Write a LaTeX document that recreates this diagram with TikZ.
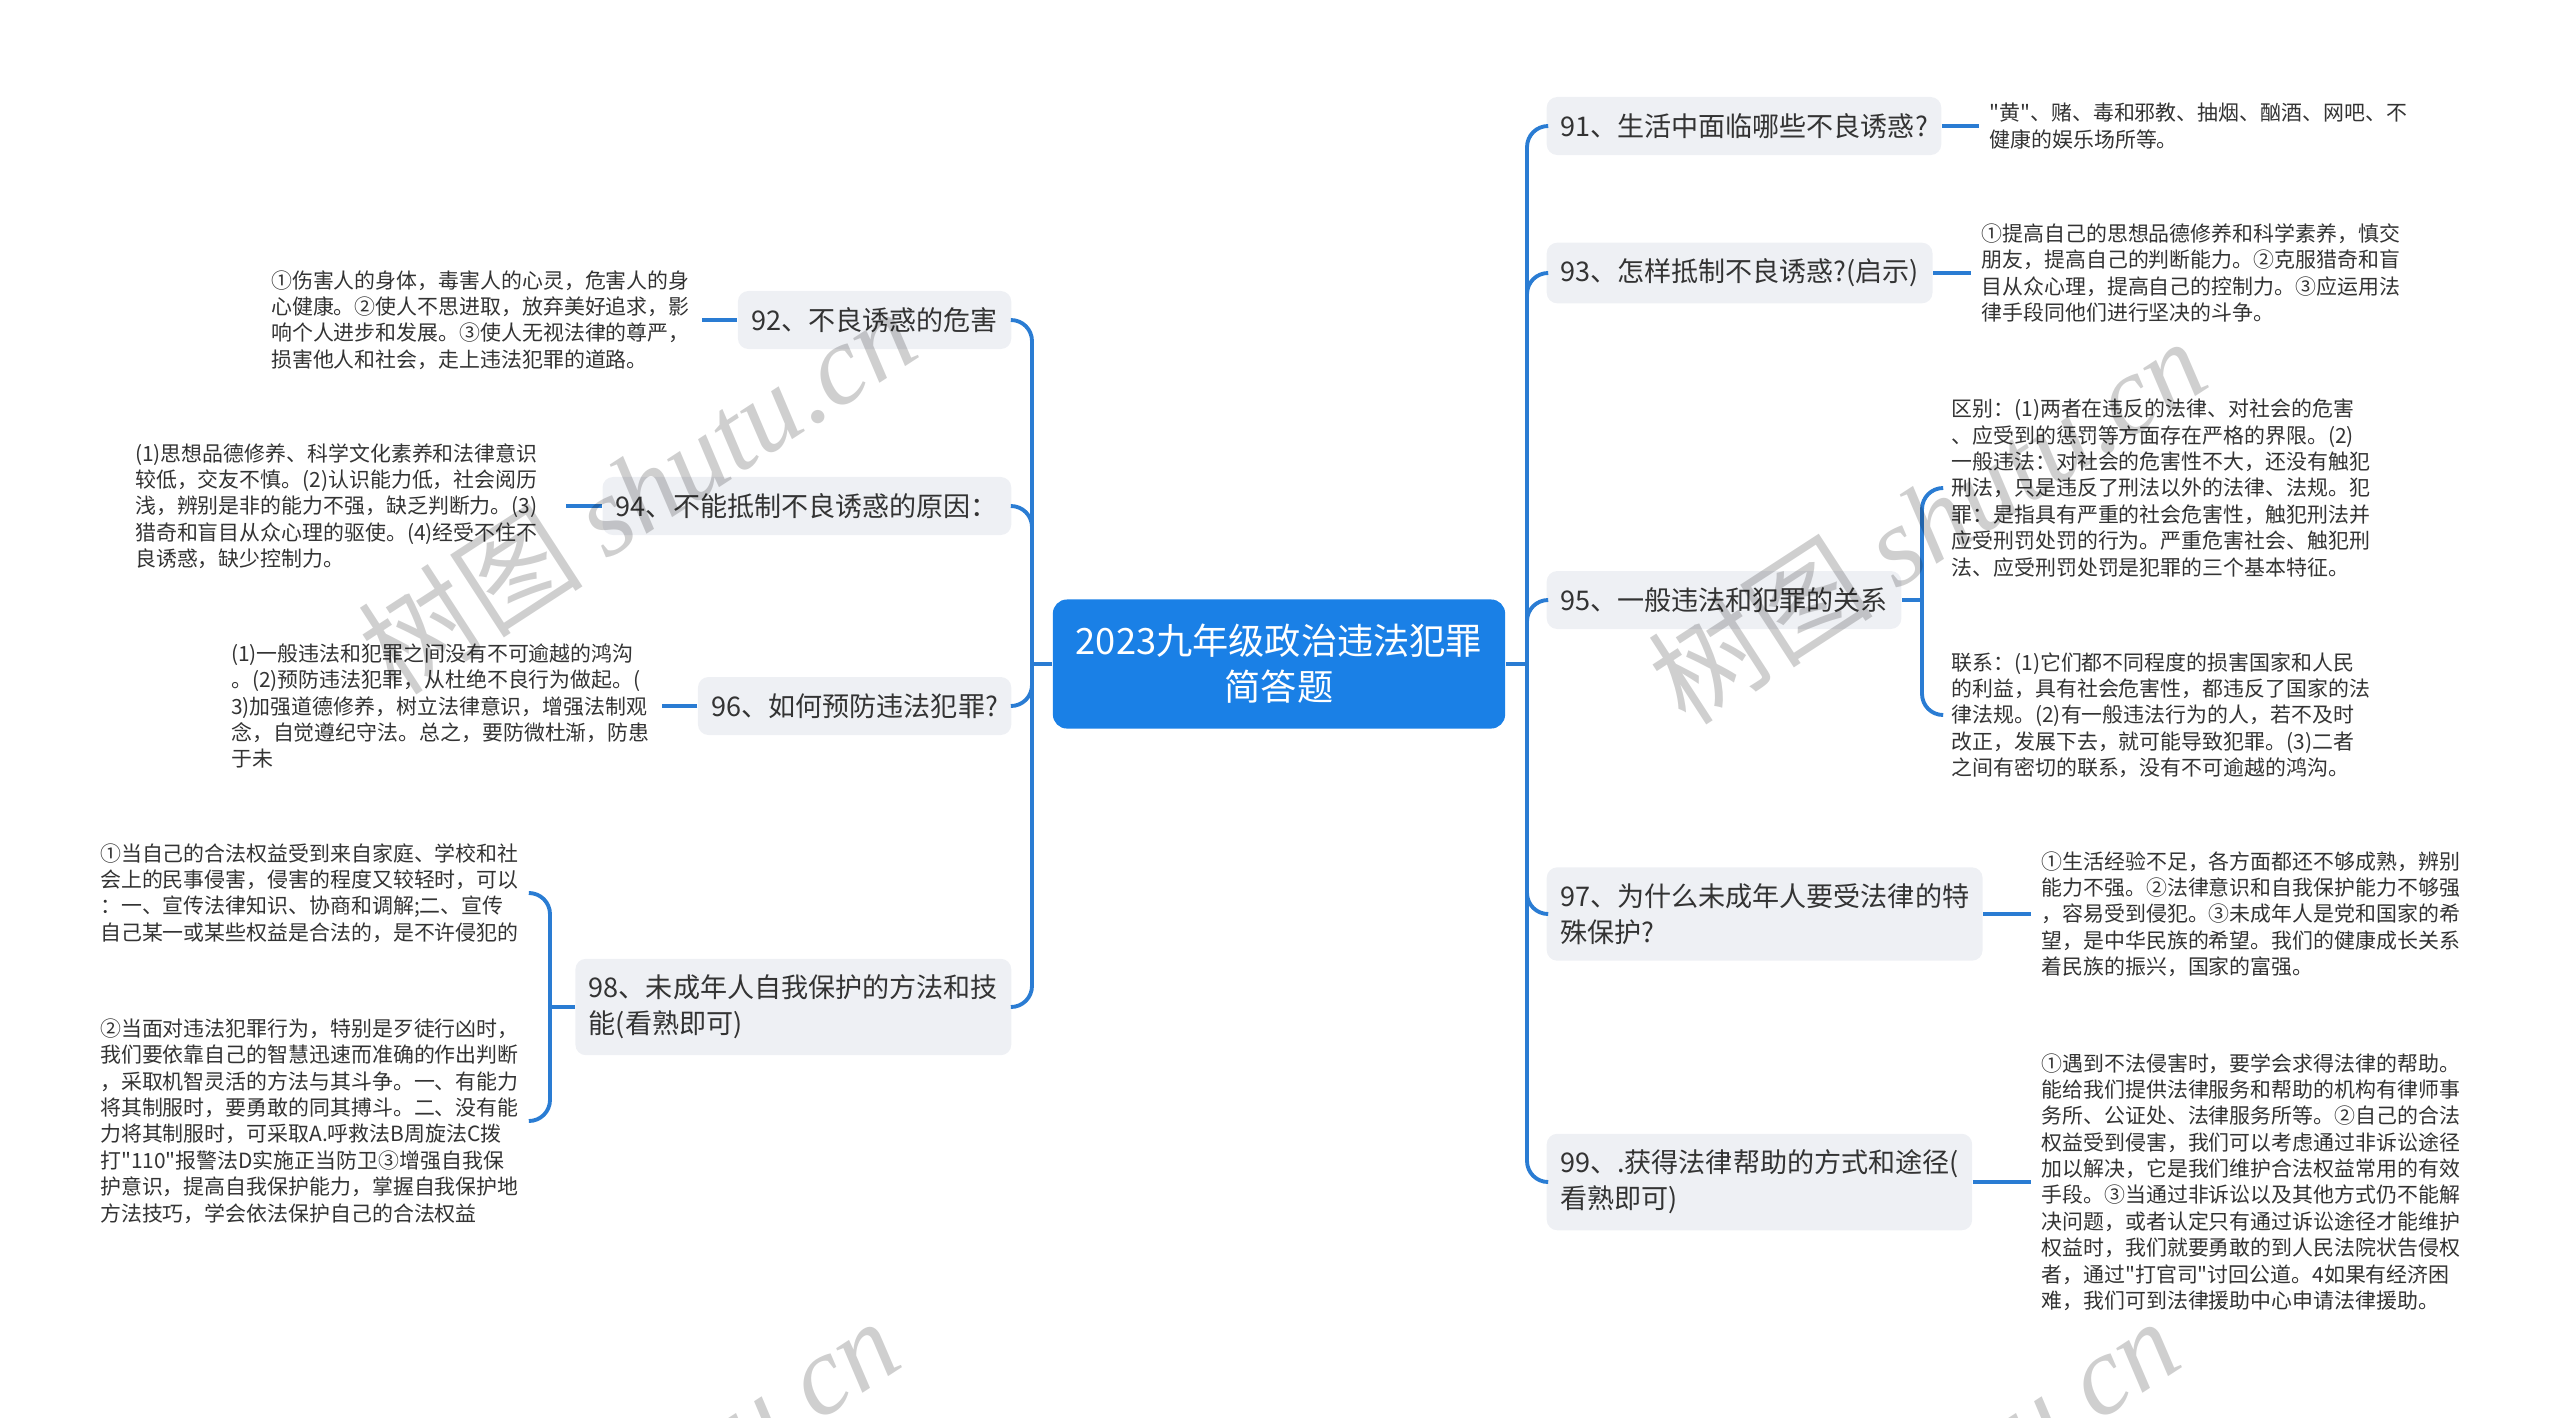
\documentclass[tikz,border=0pt]{standalone}
\usepackage{fontspec}
\setmainfont{Noto Sans CJK SC}
\newfontfamily\cjk{Noto Sans CJK SC}
\newfontfamily\wmfont{Liberation Serif}
\usepackage{xcolor}
\usetikzlibrary{calc, positioning}

\definecolor{rootblue}{HTML}{1A80E6}
\definecolor{linkblue}{HTML}{2A7CD3}
\definecolor{branchgray}{HTML}{EEF0F4}
\definecolor{textdark}{HTML}{333333}

\tikzset{
  root/.style={fill=rootblue, rounded corners=4pt, text=white, align=center,
    minimum width=4.52cm, minimum height=1.29cm, inner sep=0pt,
    font=\cjk\fontsize{10.3}{13}\selectfont},
  branch/.style={fill=branchgray, rounded corners=3pt, text=textdark, align=left,
    inner xsep=3.8pt, inner ysep=4.6pt, minimum height=0.58cm,
    font=\cjk\fontsize{7.7}{10.2}\selectfont},
  leaf/.style={text=textdark, align=left, text width=4.2cm,
    inner xsep=2.8pt, inner ysep=1pt, font=\cjk\fontsize{5.95}{7.5}\selectfont},
  link/.style={draw=linkblue, line width=1.1pt, rounded corners=6pt},
  wmark/.style={text=black, opacity=0.19, font=\cjk\fontsize{32}{32}\selectfont}
}

\begin{document}
\begin{tikzpicture}[x=0.01cm, y=-0.01cm]

    \useasboundingbox (0,0) rectangle (2560,1417);

    % =================================================================
    % 1. CHỦ ĐỀ TRUNG TÂM VÀ CÁC ĐIỂM RẼ NHÁNH
    % =================================================================
    \node[root] (root) at (1279,664) {2023九年级政治违法犯罪\\简答题};

    \coordinate (trunkL) at (1032,664);
    \coordinate (trunkR) at (1527,664);
    \coordinate (j98) at (550,1007);
    \coordinate (j95) at (1922,600);

    % =================================================================
    % 2. CÁC NHÁNH BÊN TRÁI
    % =================================================================
    \node[branch, anchor=east] (b92) at (1012,320) {92、不良诱惑的危害};
    \node[branch, anchor=east] (b94) at (1012,506) {94、不能抵制不良诱惑的原因：};
    \node[branch, anchor=east] (b96) at (1012,706) {96、如何预防违法犯罪?};
    \node[branch, anchor=east] (b98) at (1012,1007) {98、未成年人自我保护的方法和技\\能(看熟即可)};

    % =================================================================
    % 3. CÁC NHÁNH BÊN PHẢI
    % =================================================================
    \node[branch, anchor=west] (b91) at (1546,126) {91、生活中面临哪些不良诱惑?};
    \node[branch, anchor=west] (b93) at (1546,273) {93、怎样抵制不良诱惑?(启示)};
    \node[branch, anchor=west] (b95) at (1546,600) {95、一般违法和犯罪的关系};
    \node[branch, anchor=west] (b97) at (1546,914) {97、为什么未成年人要受法律的特\\殊保护?};
    \node[branch, anchor=west] (b99) at (1546,1182) {99、.获得法律帮助的方式和途径(\\看熟即可)};

    % =================================================================
    % 4. NỘI DUNG CHI TIẾT (LÁ)
    % =================================================================
    \node[leaf, anchor=east] (l92) at (702,320) {①伤害人的身体，毒害人的心灵，危害人的身\\心健康。②使人不思进取，放弃美好追求，影\\响个人进步和发展。③使人无视法律的尊严，\\损害他人和社会，走上违法犯罪的道路。};
    \node[leaf, anchor=east] (l94) at (566,506) {(1)思想品德修养、科学文化素养和法律意识\\较低，交友不慎。(2)认识能力低，社会阅历\\浅，辨别是非的能力不强，缺乏判断力。(3)\\猎奇和盲目从众心理的驱使。(4)经受不住不\\良诱惑，缺少控制力。};
    \node[leaf, anchor=east] (l96) at (662,706) {(1)一般违法和犯罪之间没有不可逾越的鸿沟\\。(2)预防违法犯罪，从杜绝不良行为做起。(\\3)加强道德修养，树立法律意识，增强法制观\\念，自觉遵纪守法。总之，要防微杜渐，防患\\于未};
    \node[leaf, anchor=east] (l98a) at (531,893) {①当自己的合法权益受到来自家庭、学校和社\\会上的民事侵害，侵害的程度又较轻时，可以\\：一、宣传法律知识、协商和调解;二、宣传\\自己某一或某些权益是合法的，是不许侵犯的};
    \node[leaf, anchor=east] (l98b) at (531,1121) {②当面对违法犯罪行为，特别是歹徒行凶时，\\我们要依靠自己的智慧迅速而准确的作出判断\\，采取机智灵活的方法与其斗争。一、有能力\\将其制服时，要勇敢的同其搏斗。二、没有能\\力将其制服时，可采取A.呼救法B周旋法C拨\\打"110"报警法D实施正当防卫③增强自我保\\护意识，提高自我保护能力，掌握自我保护地\\方法技巧，学会依法保护自己的合法权益};

    \node[leaf, anchor=west] (l91) at (1979,126) {"黄"、赌、毒和邪教、抽烟、酗酒、网吧、不\\健康的娱乐场所等。};
    \node[leaf, anchor=west] (l93) at (1971,273) {①提高自己的思想品德修养和科学素养，慎交\\朋友，提高自己的判断能力。②克服猎奇和盲\\目从众心理，提高自己的控制力。③应运用法\\律手段同他们进行坚决的斗争。};
    \node[leaf, anchor=west] (l95a) at (1941,488) {区别：(1)两者在违反的法律、对社会的危害\\、应受到的惩罚等方面存在严格的界限。(2)\\一般违法：对社会的危害性不大，还没有触犯\\刑法，只是违反了刑法以外的法律、法规。犯\\罪：是指具有严重的社会危害性，触犯刑法并\\应受刑罚处罚的行为。严重危害社会、触犯刑\\法、应受刑罚处罚是犯罪的三个基本特征。};
    \node[leaf, anchor=west] (l95b) at (1941,715) {联系：(1)它们都不同程度的损害国家和人民\\的利益，具有社会危害性，都违反了国家的法\\律法规。(2)有一般违法行为的人，若不及时\\改正，发展下去，就可能导致犯罪。(3)二者\\之间有密切的联系，没有不可逾越的鸿沟。};
    \node[leaf, anchor=west] (l97) at (2031,914) {①生活经验不足，各方面都还不够成熟，辨别\\能力不强。②法律意识和自我保护能力不够强\\，容易受到侵犯。③未成年人是党和国家的希\\望，是中华民族的希望。我们的健康成长关系\\着民族的振兴，国家的富强。};
    \node[leaf, anchor=west] (l99) at (2031,1182) {①遇到不法侵害时，要学会求得法律的帮助。\\能给我们提供法律服务和帮助的机构有律师事\\务所、公证处、法律服务所等。②自己的合法\\权益受到侵害，我们可以考虑通过非诉讼途径\\加以解决，它是我们维护合法权益常用的有效\\手段。③当通过非诉讼以及其他方式仍不能解\\决问题，或者认定只有通过诉讼途径才能维护\\权益时，我们就要勇敢的到人民法院状告侵权\\者，通过"打官司"讨回公道。4如果有经济困\\难，我们可到法律援助中心申请法律援助。};

    % =================================================================
    % 5. CÁC ĐƯỜNG NỐI
    % =================================================================
    \draw[link] (root.west) -- (trunkL);
    \draw[link] (root.east) -- (trunkR);
    \foreach \b in {b92,b94,b96,b98}
        \draw[link] (trunkL) |- (\b.east);
    \foreach \b in {b91,b93,b95,b97,b99}
        \draw[link] (trunkR) |- (\b.west);

    \draw[link] (b92.west) -- (l92.east);
    \draw[link] (b94.west) -- (l94.east);
    \draw[link] (b96.west) -- (l96.east);
    \draw[link] (b98.west) -- (j98);
    \draw[link] (j98) |- (l98a.east);
    \draw[link] (j98) |- (l98b.east);

    \draw[link] (b91.east) -- (l91.west);
    \draw[link] (b93.east) -- (l93.west);
    \draw[link] (b95.east) -- (j95);
    \draw[link] (j95) |- (l95a.west);
    \draw[link] (j95) |- (l95b.west);
    \draw[link] (b97.east) -- (l97.west);
    \draw[link] (b99.east) -- (l99.west);

    % =================================================================
    % 6. DẤU NƯỚC (WATERMARK)
    % =================================================================
    \node[wmark, rotate=33] (wm1) at (637,490) {树图 {\wmfont\itshape shutu.cn}};
    \node[wmark, rotate=33] (wm2) at (1927,520) {树图 {\wmfont\itshape shutu.cn}};
    \node[wmark, rotate=33] (wm3) at (620,1500) {树图 {\wmfont\itshape shutu.cn}};
    \node[wmark, rotate=33] (wm4) at (1900,1500) {树图 {\wmfont\itshape shutu.cn}};

\end{tikzpicture}
\end{document}
